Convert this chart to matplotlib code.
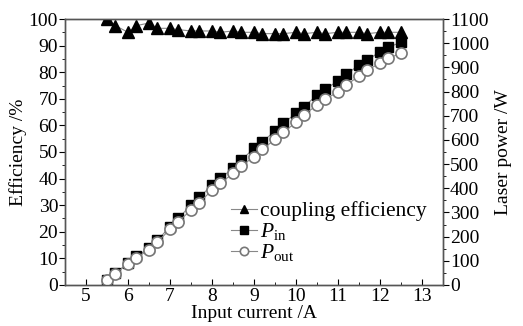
import matplotlib
matplotlib.use("Agg")
import matplotlib.pyplot as plt
from matplotlib.ticker import MultipleLocator

plt.rcParams['font.family'] = ['Liberation Serif', 'DejaVu Serif']
plt.rcParams['mathtext.fontset'] = 'custom'
plt.rcParams['mathtext.rm'] = 'Liberation Serif'
plt.rcParams['mathtext.it'] = 'Liberation Serif:italic'

# input current (A)
current = [5.5, 5.7, 6.0, 6.2, 6.5, 6.7, 7.0, 7.2, 7.5, 7.7, 8.0, 8.2, 8.5, 8.7,
           9.0, 9.2, 9.5, 9.7, 10.0, 10.2, 10.5, 10.7, 11.0, 11.2, 11.5, 11.7,
           12.0, 12.2, 12.5]
# coupling efficiency (%)
efficiency = [100, 97.5, 95, 97.5, 98.5, 96.5, 96.5, 96, 95.5, 95.5, 95.5, 95,
              95.5, 95, 95, 94.5, 94.5, 94.5, 95, 94.5, 95, 94.5, 95, 95, 95,
              94.5, 95, 95, 95]
# laser power (W)
p_in = [22, 48, 92, 118, 152, 185, 241, 276, 331, 362, 414, 441, 483, 517,
        565, 593, 636, 669, 710, 738, 786, 809, 845, 871, 910, 930, 965, 983, 1004]
p_out = [20, 46, 88, 113, 146, 178, 230, 262, 310, 340, 393, 420, 462, 492,
         531, 561, 602, 632, 672, 705, 744, 768, 799, 827, 864, 889, 917, 938, 958]

fig = plt.figure(figsize=(5.23, 3.26), dpi=100)
ax = fig.add_axes([0.1243, 0.1258, 0.7227, 0.8159])
ax2 = ax.twinx()

fs = 14
l1, = ax.plot(current, efficiency, '-', color='#888888', lw=0.8, marker='^',
              ms=8, mfc='black', mec='black', label='coupling efficiency',
              zorder=3)
l2, = ax2.plot(current, p_in, '-', color='#888888', lw=0.8, marker='s',
               ms=7, mfc='black', mec='black', label=r'$P_{\rm in}$')
l3, = ax2.plot(current, p_out, '-', color='#888888', lw=0.8, marker='o',
               ms=8, mfc='white', mec='#777777', mew=1.2, label=r'$P_{\rm out}$')

ax.set_xlim(4.5, 13.5)
ax.set_ylim(0, 100)
ax2.set_ylim(0, 1100)
ax.xaxis.set_major_locator(MultipleLocator(1))
ax.xaxis.set_minor_locator(MultipleLocator(0.5))
ax.yaxis.set_major_locator(MultipleLocator(10))
ax.yaxis.set_minor_locator(MultipleLocator(5))
ax2.yaxis.set_major_locator(MultipleLocator(100))
ax2.yaxis.set_minor_locator(MultipleLocator(50))

ax.tick_params(axis='x', which='both', direction='in', labelsize=fs, pad=2)
ax.tick_params(axis='x', which='major', length=4)
ax.tick_params(axis='x', which='minor', length=2)
ax.tick_params(axis='y', which='both', direction='out', labelsize=fs, pad=1)
ax.tick_params(axis='y', which='major', length=4)
ax.tick_params(axis='y', which='minor', length=2)
ax2.tick_params(axis='y', which='both', direction='out', labelsize=fs, pad=1)
ax2.tick_params(axis='y', which='major', length=4)
ax2.tick_params(axis='y', which='minor', length=2)

for a in (ax, ax2):
    for s in a.spines.values():
        s.set_color('#555555')
        s.set_linewidth(1.0)

ax.set_xlabel('Input current /A', fontsize=fs, labelpad=0)
ax.set_ylabel('Efficiency /%', fontsize=fs, labelpad=1)
ax2.set_ylabel('Laser power /W', fontsize=fs, labelpad=4)

ax.legend(handles=[l1, l2, l3], loc='upper left', fontsize=15.5, frameon=False,
          handlelength=1.2, handletextpad=0.15, labelspacing=0.0,
          markerscale=0.75, borderaxespad=0, borderpad=0,
          bbox_to_anchor=(0.44, 0.315))

fig.savefig('out.png', dpi=100)
